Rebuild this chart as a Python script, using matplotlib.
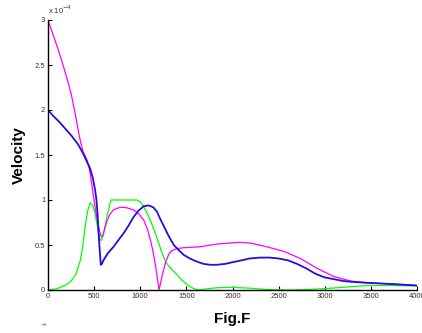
import matplotlib
matplotlib.use("Agg")
import matplotlib.pyplot as plt

plt.rcParams['font.family'] = ['Liberation Sans', 'DejaVu Sans']

# values in units of 1e-4
mag_x = [0, 50, 108, 160, 217, 255, 289, 320, 343, 379, 420, 440, 457, 475, 493,
         510, 529, 547, 565, 580, 594, 615, 638, 670, 710, 782, 850, 927, 980,
         1036, 1080, 1114, 1140, 1170, 1190, 1204, 1240, 1275, 1310, 1346,
         1400, 1471, 1648, 1828, 2076, 2200, 2373, 2554, 2736, 2917, 3098,
         3279, 3460, 3750, 4000]
mag_y = [3.0, 2.85, 2.68, 2.51, 2.31, 2.16, 1.99, 1.82, 1.69, 1.54, 1.45, 1.38, 1.3, 1.17, 1.04,
         0.92, 0.81, 0.72, 0.63, 0.59, 0.6, 0.68, 0.76, 0.84, 0.89, 0.92, 0.915, 0.89, 0.85,
         0.78, 0.67, 0.54, 0.42, 0.24, 0.1, 0.0, 0.17, 0.31, 0.4, 0.44,
         0.46, 0.47, 0.48, 0.51, 0.53, 0.52, 0.48, 0.43, 0.35, 0.24, 0.15,
         0.1, 0.08, 0.065, 0.05]

blue_x = [0, 60, 120, 181, 250, 325, 379, 420, 457, 485, 511, 525, 537, 547, 560,
          572, 585, 601, 650, 710, 760, 819, 870, 927, 980, 1036, 1090, 1140,
          1181, 1221, 1260, 1293, 1330, 1364, 1420, 1471, 1520, 1579, 1630,
          1686, 1760, 1828, 1920, 2007, 2100, 2185, 2300, 2400, 2500, 2600,
          2700, 2800, 2900, 3000, 3100, 3200, 3300, 3458, 3750, 4000]
blue_y = [2.0, 1.93, 1.87, 1.8, 1.72, 1.62, 1.52, 1.43, 1.35, 1.25, 1.11, 1.0, 0.85, 0.65, 0.45,
          0.28, 0.29, 0.33, 0.41, 0.48, 0.55, 0.63, 0.71, 0.81, 0.88, 0.93, 0.94, 0.92,
          0.87, 0.78, 0.7, 0.63, 0.56, 0.5, 0.44, 0.39, 0.36, 0.33, 0.31,
          0.29, 0.28, 0.28, 0.29, 0.31, 0.33, 0.35, 0.36, 0.36, 0.35, 0.33,
          0.29, 0.24, 0.18, 0.14, 0.12, 0.1, 0.09, 0.08, 0.065, 0.05]

grn_x = [0, 100, 200, 250, 300, 348, 375, 402, 430, 457, 485, 510, 540, 565, 580,
         600, 640, 681, 963, 1000, 1036, 1080, 1114, 1150, 1180, 1230, 1275,
         1330, 1400, 1450, 1507, 1570, 1632, 1700, 1828, 2000, 2185, 2374,
         2600, 2800, 3000, 3200, 3460, 3700, 4000]
grn_y = [0.0, 0.015, 0.06, 0.1, 0.17, 0.32, 0.47, 0.7, 0.88, 0.97, 0.94, 0.85, 0.68, 0.56, 0.55,
         0.62, 0.82, 1.0, 1.0, 0.98, 0.93, 0.84, 0.76, 0.67, 0.58, 0.43, 0.31,
         0.24, 0.17, 0.11, 0.06, 0.02, 0.0, 0.01, 0.025, 0.03, 0.02, 0.005,
         0.0, 0.005, 0.015, 0.03, 0.05, 0.05, 0.045]

x_ticks = [0, 500, 1000, 1500, 2000, 2500, 3000, 3500, 4000]
y_ticks = [0, 0.5, 1, 1.5, 2, 2.5, 3]
y_labels = ['0', '0.5', '1', '1.5', '2', '2.5', '3']

fig = plt.figure(figsize=(4.22, 3.33), dpi=100)
ax = fig.add_axes([48 / 422, 1 - 290 / 333, 369 / 422, 270 / 333])

ax.plot(grn_x, grn_y, color='#00ff00', lw=0.9)
ax.plot(mag_x, mag_y, color='#ff00ff', lw=0.9)
ax.plot(blue_x, blue_y, color='#2a0ae0', lw=1.3)

ax.set_xlim(0, 4000)
ax.set_ylim(0, 3)
ax.set_xticks(x_ticks)
ax.set_yticks(y_ticks)
ax.set_yticklabels(y_labels)
ax.tick_params(direction='in', length=3, width=0.8, labelsize=5.5,
               labelcolor='#333333', pad=2)
for s in ['top', 'right']:
    ax.spines[s].set_visible(False)
for s in ['left', 'bottom']:
    ax.spines[s].set_linewidth(1.0)

ax.text(0, 1.015, r'x 10$^{-4}$', transform=ax.transAxes, fontsize=5.5,
        color='#333333', va='bottom', ha='left')
ax.set_ylabel('Velocity', fontsize=11, fontweight='bold', labelpad=6)
ax.set_xlabel('Fig.F', fontsize=11, fontweight='bold', labelpad=9)
fig.text(40 / 422, 1 - 327 / 333, r'$^{-6}$', fontsize=4.5, color='#555555')

fig.savefig('out.png', dpi=100)
